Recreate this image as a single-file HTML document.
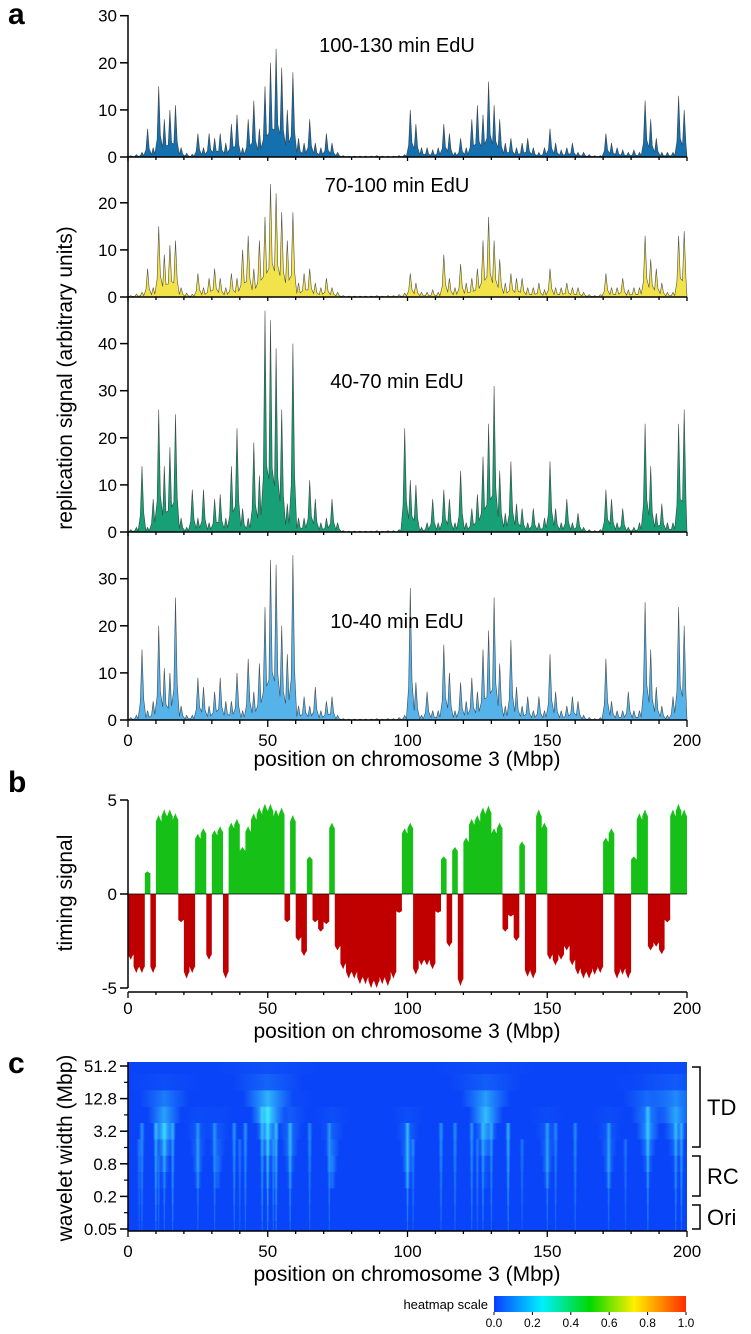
<!DOCTYPE html>
<html><head><meta charset="utf-8"><style>
html,body{margin:0;padding:0;background:#fff;}
svg{display:block;font-family:"Liberation Sans",Arial,sans-serif;}
</style></head><body>
<svg id="fig" width="751" height="1334" viewBox="0 0 751 1334" xmlns="http://www.w3.org/2000/svg">
<defs>
<linearGradient id="jet" x1="0" x2="1" y1="0" y2="0">
<stop offset="0" stop-color="#0a3dff"/><stop offset="0.25" stop-color="#00f0ff"/><stop offset="0.5" stop-color="#00d800"/><stop offset="0.73" stop-color="#fff000"/><stop offset="1" stop-color="#ff2a00"/>
</linearGradient>
<linearGradient id="fade" x1="0" x2="1" y1="0" y2="0">
<stop offset="0" stop-color="#3fd8ff" stop-opacity="0"/><stop offset="0.5" stop-color="#3fe8ff" stop-opacity="1"/><stop offset="1" stop-color="#3fd8ff" stop-opacity="0"/>
</linearGradient>
<clipPath id="hmclip"><rect x="128" y="1062" width="559" height="169"/></clipPath>
</defs>
<g id="layer"></g>
<text x="8" y="24" font-size="30" font-weight="bold">a</text>
<text x="8" y="792" font-size="30" font-weight="bold">b</text>
<text x="8" y="1073" font-size="30" font-weight="bold">c</text>
<text transform="translate(72,378) rotate(-90)" text-anchor="middle" font-size="21">replication signal  (arbitrary units)</text>
<text transform="translate(72,893) rotate(-90)" text-anchor="middle" font-size="21">timing signal</text>
<text transform="translate(72,1148) rotate(-90)" text-anchor="middle" font-size="21">wavelet width (Mbp)</text>
<text x="407" y="766" text-anchor="middle" font-size="21">position on chromosome 3 (Mbp)</text>
<text x="407" y="1038" text-anchor="middle" font-size="21">position on chromosome 3 (Mbp)</text>
<text x="407" y="1281" text-anchor="middle" font-size="21">position on chromosome 3 (Mbp)</text>
<text x="397" y="52" text-anchor="middle" font-size="20">100-130 min EdU</text>
<text x="397" y="192" text-anchor="middle" font-size="20">70-100 min EdU</text>
<text x="397" y="388" text-anchor="middle" font-size="20">40-70 min EdU</text>
<text x="397" y="628" text-anchor="middle" font-size="20">10-40 min EdU</text>
<g fill="none" stroke="#000" stroke-width="1.5"><path d="M692 1067H700V1147H692"/></g>
<g fill="none" stroke="#000" stroke-width="1.5"><path d="M692 1156H700V1196H692"/></g>
<g fill="none" stroke="#000" stroke-width="1.5"><path d="M692 1205H700V1229H692"/></g>
<text x="707" y="1115" font-size="22">TD</text>
<text x="707" y="1184" font-size="22">RC</text>
<text x="707" y="1225" font-size="22">Ori</text>
<text x="488" y="1309" text-anchor="end" font-size="13">heatmap scale</text>
<rect x="494" y="1296" width="192" height="16" fill="url(#jet)"/>
</svg>
<script>
// ---- data (2 Mbp bins, 0..200 Mbp) ----
const binStarts = Array.from({length:100},(_,i)=>i*2);
const edu100_130 = [0.3,0.5,1,6,2,15,8,10,11,2, 0.8,0.6,5,2,5,4,5,3,7,9, 2,8,12,6,15,20,23,19,10,18, 4,3,8,3,2,5,3,1,0.3,0.2, 0.2,0.2,0.2,0.2,0.3,0.2,0.2,0.2,0.3,0.5, 10,7,2,2,1.5,2,7,5,1,4, 2,8,11,9,16,11,8,3,4,2, 3,4,2,1,2,6,3,1.5,2,3, 1,1,0.5,0.3,0.3,5,3,2,1.5,1, 1.5,1,12,8,4,1,1,1,13,10];
const edu70_100 = [0.3,0.6,1,6,2,15,9,11,12,2, 0.8,0.6,5,2,4,6,4,2,5,4, 10,13,6,12,17,24,22,18,12,18, 3,5,6,3,2,4,2,1,0.3,0.2, 0.2,0.2,0.2,0.2,0.3,0.2,0.3,0.3,0.5,0.8, 5,3,1,1,1.5,1,9,4,2,7, 3,4,6,12,17,12,8,3,5,4, 4,2,2,3,1.5,6,2,2,3,2, 2,1,0.5,0.3,0.5,5,2,2,4,1.5, 2,2,13,8,6,3,1,1,13,14];
const edu40_70 = [0.5,1,14,1,7,26,14,18,25,3, 1,9,3,9,2,7,8,3,14,22, 5,3,19,12,47,45,39,26,6,40, 3,3,11,7,2,3,7,2,0.3,0.2, 0.2,0.2,0.2,0.2,0.3,0.2,0.3,0.3,0.5,22, 11,10,1,2,7,2,9,7,2,13, 2,5,8,16,23,31,13,4,15,6, 5,2,5,2,3,15,5,2,7,2, 4,1,0.5,0.3,0.5,9,7,2,5,1, 1,2,23,14,4,6,2,2,23,26];
const edu10_40 = [0.5,1,15,2,4,20,11,10,26,3, 1,1,9,7,3,6,9,4,4,10, 2,13,6,12,24,34,33,20,14,35, 3,5,3,7,2,4,5,1,0.3,0.2, 0.2,0.2,0.2,0.2,0.3,0.2,0.3,0.3,0.5,1, 28,8,1,6,2,2,16,10,2,8, 4,9,6,15,19,26,12,3,17,7, 3,5,2,5,2,14,6,2,3,5, 4,1,0.5,0.3,0.5,13,4,2,2,6, 2,2,25,15,7,3,1,5,24,20];
const timing = [-3.5,-4.2,-4.2,1.2,-4.2,4.2,4.5,4.5,4.3,-1.5, -4.5,-4.2,3.2,3.5,-3.5,3.4,3.6,-4.5,3.8,4, 2.5,3.6,4.3,4.6,4.8,4.8,4.5,4.6,-1.5,4.2, -2.5,-3.3,2,-1.5,-2,-1.6,3.8,-3,-4,-4.5, -4.5,-4.8,-4.8,-5,-5,-4.8,-4.9,-4.5,-1,3.5, 3.8,-4.3,-3.8,-3.8,-4,-1,2,-2.8,2.5,-4.9, 3,4,4.2,4.6,4.7,3.5,3.8,-2,-1.2,-2.5, 2.8,-4.4,-4.5,4.5,3.8,-3.5,-3.8,-3.5,-3,-3.8, -4.3,-4.5,-4.5,-4.3,-4.2,3,3.5,-4.5,-4.3,-4.5, 2,4.3,4.5,-3,-2.8,-3.2,-1.5,4.5,4.8,4.5];
const xTickLabels = ["0","50","100","150","200"];
const xTickValues = [0,50,100,150,200];
const panelTicks1 = [0,10,20,30];
const panelTicks2 = [0,10,20];
const panelTicks3 = [0,10,20,30,40];
const panelTicks4 = [0,10,20,30];
const timingTicks = [-5,0,5];
const waveletLabels = ["51.2","12.8","3.2","0.8","0.2","0.05"];
const colorbarLabels = ["0.0","0.2","0.4","0.6","0.8","1.0"];
const ridgeCenters = [4,5,10,11,13,16,25,31,38,40,42,48,50,52,53,58,65,72,100,102,112,117,123,125,127,130,136,141,150,153,160,172,178,186,196,198];
const ridgeTop = [5,6,6,4,6,6,6,6,6,5,6,7,7,5,6,6,6,6,6,5,6,6,6,5,6,6,6,5,6,6,6,6,5,7,6,6];
const ridgeStrength = [0.35,0.5,0.7,0.4,0.5,0.6,0.45,0.45,0.5,0.35,0.5,0.6,0.8,0.5,0.75,0.65,0.45,0.45,0.7,0.4,0.5,0.45,0.5,0.4,0.6,0.5,0.7,0.35,0.5,0.4,0.45,0.5,0.35,0.65,0.55,0.6];
const coneCenters = [13,50,128,196,100,73,25,150,172,186,58,32];
const coneTop = [9,10,10,10,7,7,7,7,7,9,8,7];
const coneStrength = [0.8,0.95,0.75,0.6,0.45,0.4,0.35,0.35,0.35,0.55,0.35,0.3];

const NS = "http://www.w3.org/2000/svg";
const layer = document.getElementById("layer");
function mk(tag, attrs, parent){const e=document.createElementNS(NS,tag);for(const k in attrs)e.setAttribute(k,attrs[k]);(parent||layer).appendChild(e);return e;}
const X0=128, X1=687;
function xs(m){return X0+(X1-X0)*m/200;}

const panels = [
 {data:edu100_130, zero:157, top:15, ticks:panelTicks1, color:"#1570b0", name:"100-130"},
 {data:edu70_100, zero:297, top:157, ticks:panelTicks2, color:"#f2e34a", name:"70-100"},
 {data:edu40_70, zero:532, top:297, ticks:panelTicks3, color:"#17a075", name:"40-70"},
 {data:edu10_40, zero:720, top:532, ticks:panelTicks4, color:"#55b3ea", name:"10-40"}];
const PPU = 4.71;
panels.forEach((p,pi)=>{
  function ys(v){return p.zero - v*PPU;}
  let d = "M"+xs(0)+" "+p.zero;
  p.data.forEach((v,i)=>{ d += " L"+xs(binStarts[i]+0.4).toFixed(1)+" "+ys(v*0.25).toFixed(1)+" L"+xs(binStarts[i]+1).toFixed(1)+" "+ys(v).toFixed(1)+" L"+xs(binStarts[i]+1.6).toFixed(1)+" "+ys(v*0.3).toFixed(1); });
  d += " L"+xs(200)+" "+p.zero+" Z";
  const area = mk("path",{d:d, fill:p.color, stroke:"#2a2a2a", "stroke-width":"0.6", "stroke-opacity":"0.8"});
  
  
  const base = mk("line",{x1:X0,x2:X1,y1:p.zero,y2:p.zero,stroke:"#000","stroke-width":"1.5"});
  
  
  for(let m=0;m<=200;m+=10){
    const big = (m%50===0);
    const t = mk("line",{x1:xs(m),x2:xs(m),y1:p.zero,y2:p.zero+(pi===3?(big?7:4):(big?4:3)),stroke:"#000","stroke-width":"1.3"});
    
    
  }
  p.ticks.forEach(v=>{
    const t = mk("line",{x1:120,x2:X0,y1:ys(v),y2:ys(v),stroke:"#000","stroke-width":"1.5"});
    
    
    const l = mk("text",{x:117,y:ys(v)+6,"text-anchor":"end","font-size":"17"});
    l.textContent = String(v);
    
    
  });
});
const yaxA = mk("line",{x1:X0,x2:X0,y1:15,y2:720,stroke:"#000","stroke-width":"1.5"});


xTickValues.forEach((v,i)=>{
  const l = mk("text",{x:xs(v),y:746,"text-anchor":"middle","font-size":"17"});
  l.textContent = xTickLabels[i];
  
  
});

const BZ=894, BPU=(988-800)/10;
function yb(v){return BZ - v*BPU;}
let pos="M"+xs(0)+" "+BZ, neg="M"+xs(0)+" "+BZ;
timing.forEach((v,i)=>{
  const a=xs(binStarts[i]), b=xs(binStarts[i]+2);
  const pv=Math.max(v,0), nv=Math.min(v,0);
  pos += " L"+a.toFixed(1)+" "+yb(pv*0.92).toFixed(1)+" L"+(a+(b-a)*0.3).toFixed(1)+" "+yb(pv*0.97).toFixed(1)+" L"+((a+b)/2).toFixed(1)+" "+yb(pv).toFixed(1)+" L"+(a+(b-a)*0.75).toFixed(1)+" "+yb(pv*0.95).toFixed(1)+" L"+b.toFixed(1)+" "+yb(pv*0.92).toFixed(1);
  neg += " L"+a.toFixed(1)+" "+yb(nv*0.92).toFixed(1)+" L"+(a+(b-a)*0.3).toFixed(1)+" "+yb(nv*0.97).toFixed(1)+" L"+((a+b)/2).toFixed(1)+" "+yb(nv).toFixed(1)+" L"+(a+(b-a)*0.75).toFixed(1)+" "+yb(nv*0.95).toFixed(1)+" L"+b.toFixed(1)+" "+yb(nv*0.92).toFixed(1);
});
pos += " L"+xs(200)+" "+BZ+" Z"; neg += " L"+xs(200)+" "+BZ+" Z";
const pa = mk("path",{d:pos,fill:"#16c016"});


const na = mk("path",{d:neg,fill:"#c00000"});


const zl = mk("line",{x1:X0,x2:X1,y1:BZ,y2:BZ,stroke:"#000","stroke-width":"0.8"});


const yaxB = mk("line",{x1:X0,x2:X0,y1:800,y2:988,stroke:"#000","stroke-width":"1.5"});


timingTicks.forEach(v=>{
  const t = mk("line",{x1:120,x2:X0,y1:yb(v),y2:yb(v),stroke:"#000","stroke-width":"1.5"});
  
  
  const l = mk("text",{x:117,y:yb(v)+6,"text-anchor":"end","font-size":"17"});
  l.textContent = String(v);
  
  
});
const xaxB = mk("line",{x1:X0,x2:X1,y1:992,y2:992,stroke:"#000","stroke-width":"1.5"});


for(let m=0;m<=200;m+=10){
  const t = mk("line",{x1:xs(m),x2:xs(m),y1:992,y2:992+(m%50===0?6:3),stroke:"#000","stroke-width":"1.3"});
  
  
}
xTickValues.forEach((v,i)=>{
  const l = mk("text",{x:xs(v),y:1014,"text-anchor":"middle","font-size":"17"});
  l.textContent = xTickLabels[i];
  
  
});

const HT=1062, HB=1231;
function yl(level){return 1229 - level*16.3;}
const hg = mk("g",{"clip-path":"url(#hmclip)"});


const bg = mk("rect",{x:X0,y:HT,width:X1-X0,height:HB-HT,fill:"#0a44f8"},hg);


coneCenters.forEach((c,i)=>{
  for(let l=3;l<=coneTop[i];l++){
    const w = 0.9*Math.pow(1.45,l);
    const peak = coneTop[i]-3;
    const s = coneStrength[i]*Math.max(0.12, 1-Math.abs(l-peak)/3.5)*(l>=9?0.5:1);
    const r = mk("rect",{x:xs(c-w/2),y:yl(l)-8.2,width:xs(w)-X0,height:16.4,fill:"url(#fade)",opacity:s.toFixed(2)},hg);
    
    
  }
});
ridgeCenters.forEach((c,i)=>{
  for(let l=0;l<=ridgeTop[i];l++){
    const w = 0.6+0.25*l;
    const s = ridgeStrength[i]*(0.5+0.08*l);
    const r = mk("rect",{x:xs(c-w/2),y:yl(l)-8.2,width:xs(w)-X0,height:16.4,fill:"url(#fade)",opacity:Math.min(1,s).toFixed(2)},hg);
    
    
  }
});
const yaxC = mk("line",{x1:X0,x2:X0,y1:HT,y2:HB,stroke:"#000","stroke-width":"1.5"});


waveletLabels.forEach((lab,k)=>{
  const y = 1066 + k*32.6;
  const t = mk("line",{x1:120,x2:X0,y1:y,y2:y,stroke:"#000","stroke-width":"1.5"});
  
  
  if(k<5){
    const t2 = mk("line",{x1:124,x2:X0,y1:y+16.3,y2:y+16.3,stroke:"#000","stroke-width":"1.2"});
    
    
  }
  const l = mk("text",{x:117,y:y+6,"text-anchor":"end","font-size":"17"});
  l.textContent = lab;
  
  
});
const xaxC = mk("line",{x1:X0,x2:X1,y1:HB,y2:HB,stroke:"#000","stroke-width":"1.5"});


for(let m=0;m<=200;m+=10){
  const t = mk("line",{x1:xs(m),x2:xs(m),y1:HB,y2:HB+(m%50===0?6:3),stroke:"#000","stroke-width":"1.3"});
  
  
}
xTickValues.forEach((v,i)=>{
  const l = mk("text",{x:xs(v),y:1257,"text-anchor":"middle","font-size":"17"});
  l.textContent = xTickLabels[i];
  
  
});
colorbarLabels.forEach((lab,i)=>{
  const x = 494 + i*192/5;
  const t = mk("line",{x1:x,x2:x,y1:1312,y2:1315,stroke:"#000","stroke-width":"1"});
  
  
  const l = mk("text",{x:x,y:1327,"text-anchor":"middle","font-size":"12"});
  l.textContent = lab;
  
  
});
</script>
</body></html>
